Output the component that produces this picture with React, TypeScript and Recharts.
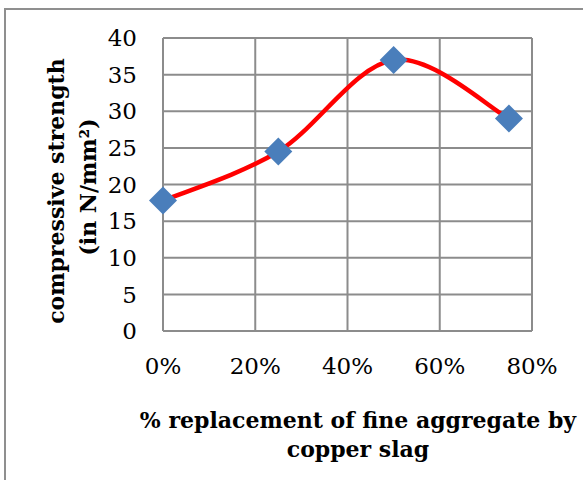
import { LineChart, Line, XAxis, YAxis, CartesianGrid, Label } from "recharts";

// % replacement of fine aggregate by copper slag
const replacement = [0, 25, 50, 75];
// compressive strength in N/mm²
const strength = [17.8, 24.5, 37, 29];
const xTicks = [0, 20, 40, 60, 80];
const yTicks = [0, 5, 10, 15, 20, 25, 30, 35, 40];

const data = replacement.map((x, i) => ({ x, y: strength[i] }));

const FONT = "'DejaVu Serif', serif";
const GRID = "#8c8c8c";

// Excel-like smoothed line (Catmull-Rom style bezier segments)
function excelSmooth(context: any) {
  let pts: number[][] = [];
  return {
    areaStart() {},
    areaEnd() {},
    lineStart() {
      pts = [];
    },
    point(x: number, y: number) {
      pts.push([+x, +y]);
    },
    lineEnd() {
      if (!pts.length) return;
      context.moveTo(pts[0][0], pts[0][1]);
      for (let i = 0; i < pts.length - 1; i++) {
        const p0 = pts[i - 1] || pts[i];
        const p1 = pts[i];
        const p2 = pts[i + 1];
        const p3 = pts[i + 2] || p2;
        context.bezierCurveTo(
          p1[0] + (p2[0] - p0[0]) / 6,
          p1[1] + (p2[1] - p0[1]) / 6,
          p2[0] - (p3[0] - p1[0]) / 6,
          p2[1] - (p3[1] - p1[1]) / 6,
          p2[0],
          p2[1],
        );
      }
    },
  };
}

const Diamond = (props: any) => {
  const { cx, cy } = props;
  if (cx == null || cy == null) return null;
  const r = 14;
  return (
    <polygon
      points={`${cx},${cy - r} ${cx + r},${cy} ${cx},${cy + r} ${cx - r},${cy}`}
      fill="#4a7ebb"
    />
  );
};

export default function App() {
  return (
    <div
      style={{
        position: "absolute",
        left: 0,
        top: 0,
        width: 583,
        height: 480,
        overflow: "hidden",
        background: "#fff",
      }}
    >
      <div
        style={{
          position: "absolute",
          left: 4,
          top: 8,
          width: 700,
          height: 600,
          borderLeft: "2px solid #8f8f8f",
          borderTop: "2px solid #8f8f8f",
        }}
      />
      <div style={{ position: "absolute", left: 0, top: 0 }}>
        <LineChart
          width={583}
          height={480}
          data={data}
          margin={{ top: 38, right: 51, bottom: 0, left: 0 }}
        >
          <CartesianGrid stroke={GRID} strokeWidth={2} />
          <XAxis
            dataKey="x"
            type="number"
            domain={[0, 80]}
            ticks={xTicks}
            tickFormatter={(v) => `${v}%`}
            tickLine={false}
            tickMargin={21}
            height={149}
            axisLine={{ stroke: GRID, strokeWidth: 2 }}
            tick={{ fontFamily: FONT, fontSize: 23, fill: "#000" }}
          >
            <Label
              content={() => (
                <text
                  textAnchor="middle"
                  fontFamily={FONT}
                  fontWeight="bold"
                  fontSize={22}
                  fill="#000"
                >
                  <tspan x={358} y={428}>
                    % replacement of fine aggregate by
                  </tspan>
                  <tspan x={358} y={457}>
                    copper slag
                  </tspan>
                </text>
              )}
            />
          </XAxis>
          <YAxis
            type="number"
            domain={[0, 40]}
            ticks={yTicks}
            tickLine={false}
            tickMargin={20}
            width={163}
            axisLine={{ stroke: GRID, strokeWidth: 2 }}
            tick={{ fontFamily: FONT, fontSize: 23, fill: "#000" }}
          >
            <Label
              content={() => (
                <text
                  textAnchor="middle"
                  fontFamily={FONT}
                  fontWeight="bold"
                  fontSize={22}
                  fill="#000"
                  transform="rotate(-90)"
                >
                  <tspan x={-191} y={64}>
                    compressive strength
                  </tspan>
                  <tspan x={-187} y={96}>
                    (in N/mm²)
                  </tspan>
                </text>
              )}
            />
          </YAxis>
          <Line
            dataKey="y"
            type={excelSmooth as any}
            stroke="#ff0000"
            strokeWidth={4.5}
            dot={<Diamond />}
            activeDot={false}
            isAnimationActive={false}
          />
        </LineChart>
      </div>
    </div>
  );
}
